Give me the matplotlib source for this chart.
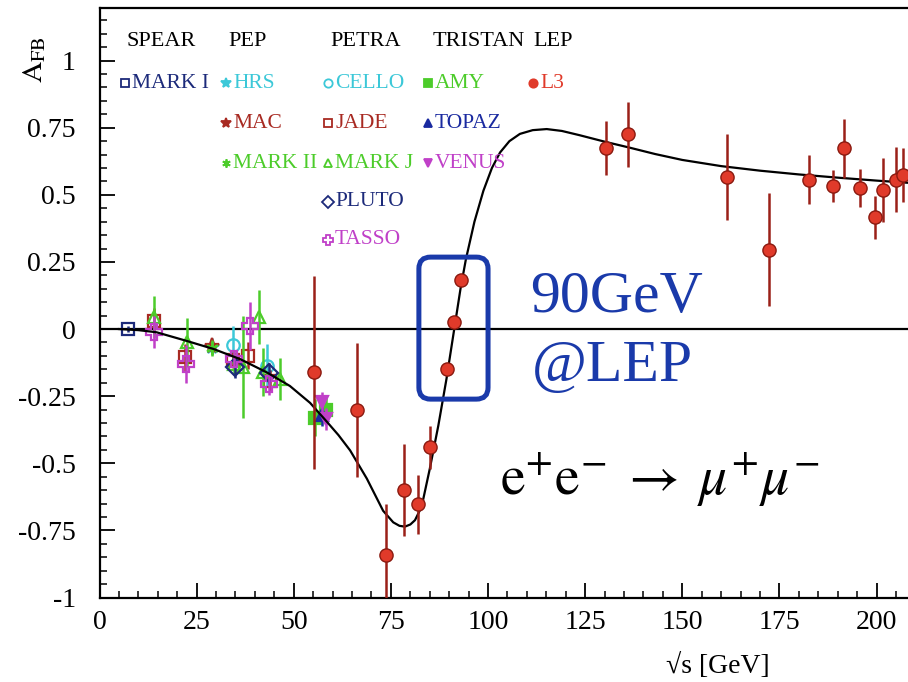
import matplotlib
matplotlib.use("Agg")
import matplotlib.pyplot as plt
from matplotlib.patches import FancyBboxPatch
from matplotlib.ticker import MultipleLocator, FixedLocator

plt.rcParams['font.family'] = ['Liberation Serif', 'DejaVu Serif']
plt.rcParams['mathtext.fontset'] = 'stix'

W, H = 908, 682

# theory curve
curve_E = [5, 10, 14.7, 22.4, 29.3, 36.2, 43.0, 49.0, 54.2, 58.5, 61.5, 64.5, 68.8, 73.0,
           75.6, 77.2, 78.6, 80.0, 81.2, 82.9, 85.0, 87.2, 89.3, 91.3, 92.9, 94.3,
           96.5, 98.8, 101.0, 103.1, 105.5, 108.2, 111.5, 115.1, 119.0, 123.6, 130.3,
           136.1, 143.0, 150.0, 160.0, 170.0, 180.0, 190.0, 200.0, 209]
curve_A = [0.0, -0.004, -0.012, -0.044, -0.074, -0.112, -0.161, -0.212, -0.275, -0.345,
           -0.395, -0.452, -0.557, -0.677, -0.72, -0.733, -0.736, -0.728, -0.712, -0.662,
           -0.521, -0.36, -0.186, 0.0, 0.149, 0.26, 0.40, 0.515, 0.600, 0.658, 0.700,
           0.727, 0.741, 0.745, 0.738, 0.722, 0.697, 0.677, 0.652, 0.630, 0.607, 0.590,
           0.576, 0.564, 0.553, 0.544]

# measurements per experiment
mark1_E, mark1_A, mark1_err = [7.3], [0.0], [0.01]
hrs_E, hrs_A, hrs_err = [29.0], [-0.065], [0.03]
mac_E, mac_A, mac_err = [29.0], [-0.063], [0.02]
mark2_E, mark2_A, mark2_err = [29.0], [-0.072], [0.03]
cello_E, cello_A, cello_err = [34.3, 43.0], [-0.06, -0.137], [0.07, 0.08]
jade_E = [14.0, 22.0, 34.4, 38.3, 43.9]
jade_A = [0.03, -0.105, -0.115, -0.099, -0.192]
jade_err = [0.05, 0.05, 0.03, 0.05, 0.04]
markj_E = [14.0, 22.5, 34.6, 37.0, 41.0, 42.2, 46.4]
markj_A = [0.045, -0.05, -0.13, -0.143, 0.044, -0.16, -0.186]
markj_err = [0.08, 0.09, 0.04, 0.19, 0.10, 0.09, 0.08]
pluto_E, pluto_A, pluto_err = [34.9, 43.5], [-0.143, -0.165], [0.04, 0.04]
tasso_E = [14.0, 22.3, 34.5, 38.8, 43.6]
tasso_A = [-0.01, -0.13, -0.11, 0.012, -0.205]
tasso_err = [0.06, 0.07, 0.03, 0.09, 0.04]
amy_E, amy_A, amy_err = [55.5, 58.4], [-0.33, -0.30], [0.07, 0.05]
topaz_E, topaz_A, topaz_err = [57.2], [-0.32], [0.04]
venus_E, venus_A, venus_err = [57.2, 58.3], [-0.273, -0.335], [0.04, 0.04]
l3_E = [55.2, 66.4, 73.7, 78.4, 82.0, 85.0, 89.4, 91.2, 93.0,
        130.3, 136.1, 161.4, 172.3, 182.7, 188.7, 191.6, 195.7, 199.5, 201.7, 205.0, 206.7]
l3_A = [-0.161, -0.302, -0.84, -0.60, -0.652, -0.44, -0.149, 0.027, 0.183,
        0.674, 0.725, 0.566, 0.296, 0.557, 0.532, 0.674, 0.525, 0.417, 0.519, 0.557, 0.575]
l3_err = [0.36, 0.25, 0.19, 0.17, 0.11, 0.08, 0.01, 0.01, 0.01,
          0.10, 0.12, 0.16, 0.21, 0.09, 0.06, 0.11, 0.07, 0.08, 0.12, 0.12, 0.10]

navy = '#1c2a7a'
cyan = '#3cc8d8'
green = '#4ccc2a'
red = '#e03a2a'
dred = '#a82a22'
mag = '#c040c8'
blue = '#1a3aaa'

# name, E, A, err, marker, color, filled, legend col, legend row
experiments = [
    ('MARK I', mark1_E, mark1_A, mark1_err, 's', navy, False, 0, 0),
    ('HRS', hrs_E, hrs_A, hrs_err, '*', cyan, True, 1, 0),
    ('MAC', mac_E, mac_A, mac_err, '*', dred, True, 1, 1),
    ('MARK II', mark2_E, mark2_A, mark2_err, (6, 2, 0), green, True, 1, 2),
    ('CELLO', cello_E, cello_A, cello_err, 'o', cyan, False, 2, 0),
    ('JADE', jade_E, jade_A, jade_err, 's', dred, False, 2, 1),
    ('MARK J', markj_E, markj_A, markj_err, '^', green, False, 2, 2),
    ('PLUTO', pluto_E, pluto_A, pluto_err, 'D', navy, False, 2, 3),
    ('TASSO', tasso_E, tasso_A, tasso_err, 'P', mag, False, 2, 4),
    ('AMY', amy_E, amy_A, amy_err, 's', green, True, 3, 0),
    ('TOPAZ', topaz_E, topaz_A, topaz_err, '^', '#1a2aa0', True, 3, 1),
    ('VENUS', venus_E, venus_A, venus_err, 'v', mag, True, 3, 2),
]

fig = plt.figure(figsize=(W / 100, H / 100), dpi=100)
ax = fig.add_axes([99.5 / W, 84.5 / H, 810.5 / W, 589.5 / H])
ax.set_xlim(0, 208.6)
ax.set_ylim(-1, 1.196)

ax.axhline(0, color='black', lw=1.6, zorder=1)

for name, E, A, err, mk, col, filled, c, r in experiments:
    ms = 11 if mk in ('*', 'P') else 9
    ax.errorbar(E, A, yerr=err, fmt='none', ecolor=col, elinewidth=1.8, zorder=2)
    ax.plot(E, A, ls='none', marker=mk, ms=ms, mec=col, mew=1.6,
            mfc=col if filled else 'none', zorder=2)

ax.plot(curve_E, curve_A, color='black', lw=1.6, zorder=3)

ax.errorbar(l3_E, l3_A, yerr=l3_err, fmt='o', ms=9.5, mfc=red, mec='#8a1a10', mew=1.0,
            ecolor='#9a2018', elinewidth=1.8, zorder=4)

# highlight box round the Z peak points
box = FancyBboxPatch((82.2, -0.261), 17.8, 0.529,
                     boxstyle='round,pad=0,rounding_size=3',
                     mutation_aspect=(3.886 / 268.5),
                     fill=False, ec=blue, lw=3.6, zorder=5)
ax.add_patch(box)

# axes styling
for s in ['left', 'bottom', 'top']:
    ax.spines[s].set_linewidth(1.6)
ax.spines['right'].set_visible(False)
ax.xaxis.set_major_locator(MultipleLocator(25))
ax.xaxis.set_minor_locator(MultipleLocator(5))
ax.yaxis.set_major_locator(FixedLocator([-1, -0.75, -0.5, -0.25, 0, 0.25, 0.5, 0.75, 1]))
ax.yaxis.set_minor_locator(MultipleLocator(0.05))
ax.tick_params(which='both', direction='in', top=False, right=False, labelsize=20)
ax.tick_params(which='major', length=11, width=1.3)
ax.tick_params(which='minor', length=5, width=1.1)
ax.tick_params(axis='y', pad=17)
ax.tick_params(axis='x', pad=9)
ax.set_yticklabels(['-1', '-0.75', '-0.5', '-0.25', '0', '0.25', '0.5', '0.75', '1'])


def fx(x):
    return x / W


def fy(y):
    return 1 - y / H


fig.text(fx(35), fy(60), r'$\mathrm{A_{FB}}$', rotation=90, fontsize=21,
         ha='center', va='center')
fig.text(fx(718), fy(666), '\u221as [GeV]', fontsize=20, ha='center', va='center')

# legend block
headers = ['SPEAR', 'PEP', 'PETRA', 'TRISTAN', 'LEP']
header_x = [127, 228, 330, 433, 533]
col_x = [125, 226, 328, 428, 533]
row_y = [83, 123, 163, 202, 240]
for h, x in zip(headers, header_x):
    fig.text(fx(x), fy(42), h, fontsize=16, ha='left', va='center')

legend_items = [(e[0], e[4], e[5], e[6], e[7], e[8]) for e in experiments]
legend_items.append(('L3', 'o', red, True, 4, 0))
for name, mk, col, filled, c, r in legend_items:
    x, y = col_x[c], row_y[r]
    fig.lines.append(plt.Line2D([fx(x)], [fy(y)], transform=fig.transFigure,
                                marker=mk, ms=6 if mk not in ('*', 'P') else 7.5,
                                mec=col, mfc=col if filled else 'none', mew=1.3, ls='none'))
    fig.text(fx(x + 7), fy(y), name, color=col, fontsize=15.5, ha='left', va='center')

# annotations
fig.text(fx(530), fy(312), '90GeV', color=blue, fontsize=43, ha='left', va='baseline')
fig.text(fx(532), fy(381), '@LEP', color=blue, fontsize=43, ha='left', va='baseline')
fig.text(fx(500), fy(495), r'$\mathrm{e}^{+}\mathrm{e}^{-}\;\rightarrow\;\mu^{+}\mu^{-}$',
         fontsize=40, ha='left', va='baseline')

fig.savefig('out.png', dpi=100)
